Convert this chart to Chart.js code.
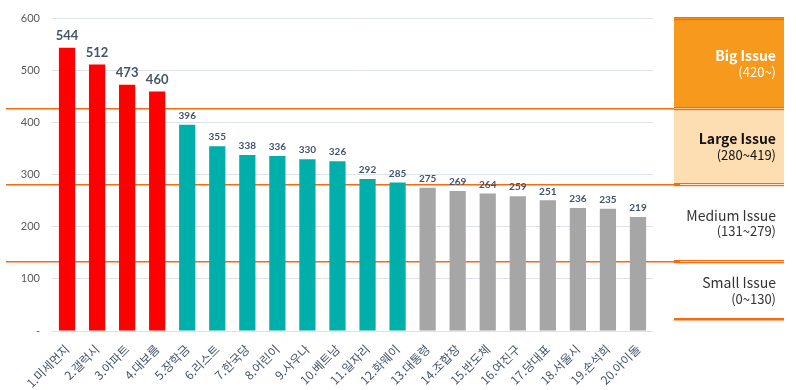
<!DOCTYPE html>
<html>
<head>
<meta charset="utf-8">
<script src="https://cdn.jsdelivr.net/npm/chart.js@4"></script>
<style>
  body { margin: 0; background: #fff; }
  #wrap { width: 796px; height: 390px; }
</style>
</head>
<body>
<div id="wrap"><canvas id="issueChart" width="796" height="390"></canvas></div>
<script>
// keywords and their counts
const keywords = ['1.미세먼지', '2.갤럭시', '3.아파트', '4.대보름', '5.장학금', '6.리스트', '7.한국당', '8.어린이', '9.사우나', '10.베트남',
    '11.일자리', '12.화웨이', '13.대통령', '14.조합장', '15.반도체', '16.여진구', '17.당대표', '18.서울시', '19.손석희', '20.아이돌'];
const counts = [544, 512, 473, 460, 396, 355, 338, 336, 330, 326, 292, 285, 275, 269, 264, 259, 251, 236, 235, 219];

// y axis ticks
const yTicks = [0, 100, 200, 300, 400, 500, 600];

// issue bands (lower limit for colouring, drawn edge on the chart)
const bandNames = ['Big Issue', 'Large Issue', 'Medium Issue', 'Small Issue'];
const bandRanges = ['(420~)', '(280~419)', '(131~279)', '(0~130)'];
const bandMins = [420, 280, 131, 0];
const bandEdges = [601, 428, 283, 134, 24];

const RED = '#FF0000', TEAL = '#00AFA9', GRAY = '#A6A6A6', ORANGE = '#F96A0E';

function barColor(v) {
    if (v >= bandMins[0]) return RED;
    if (v >= bandMins[1]) return TEAL;
    return GRAY;
}

function edgePixels(chart) {
    return bandEdges.map(v => Math.round(chart.scales.y.getPixelForValue(v)));
}

// value labels above bars
const valueLabels = {
    id: 'valueLabels',
    afterDatasetsDraw(chart) {
        const c = chart.ctx;
        const meta = chart.getDatasetMeta(0);
        c.save();
        c.textAlign = 'center';
        c.textBaseline = 'bottom';
        c.fillStyle = '#44546A';
        meta.data.forEach((bar, i) => {
            const v = counts[i];
            const big = v >= bandMins[0];
            c.font = big ? 'bold 13px Lato, "Open Sans", sans-serif' : 'bold 10px Lato, "Open Sans", sans-serif';
            c.fillText(v, bar.x, bar.y - (big ? 5 : 4));
        });
        c.restore();
    }
};

// orange threshold lines run behind the bars
const bandLines = {
    id: 'bandLines',
    beforeDatasetsDraw(chart) {
        const c = chart.ctx;
        const ys = edgePixels(chart);
        c.save();
        c.fillStyle = ORANGE;
        for (let k = 1; k <= 3; k++) {
            c.fillRect(6, ys[k], 680 - 6, 1.5);
        }
        c.restore();
    }
};

// legend boxes on the right
const issuePanel = {
    id: 'issuePanel',
    afterDraw(chart) {
        const c = chart.ctx;
        const x0 = 674, x1 = 784, w = x1 - x0;
        const ys = edgePixels(chart);
        c.save();

        c.fillStyle = '#F7991D';
        c.fillRect(x0, ys[0], w, ys[1] - ys[0]);
        c.fillStyle = '#FDDEB3';
        c.fillRect(x0, ys[1], w, ys[2] - ys[1]);

        c.fillStyle = ORANGE;
        for (let k = 0; k <= 3; k++) {
            c.fillRect(x0, ys[k] - 1, w, 1.2);
            c.fillRect(x0, ys[k] + 1, w, 1.2);
        }
        c.fillRect(x0, ys[4] - 1, w, 2.5);

        c.textAlign = 'right';
        c.textBaseline = 'middle';
        const textColors = ['#FFFFFF', '#111111', '#333333', '#333333'];
        for (let k = 0; k < 4; k++) {
            const mid = (ys[k] + ys[k + 1]) / 2;
            c.fillStyle = textColors[k];
            c.font = (k < 2 ? 'bold ' : '') + '14px "Noto Sans CJK KR", "DejaVu Sans", sans-serif';
            c.fillText(bandNames[k], 776, mid - 7);
            c.font = '13px "Noto Sans CJK KR", "DejaVu Sans", sans-serif';
            c.fillText(bandRanges[k], 776, mid + 9);
        }
        c.restore();
    }
};

const ctx = document.getElementById('issueChart').getContext('2d');
const issueChart = new Chart(ctx, {
    type: 'bar',
    data: {
        labels: keywords,
        datasets: [{
            data: counts,
            backgroundColor: counts.map(barColor),
            barPercentage: 0.54,
            categoryPercentage: 1.0
        }]
    },
    options: {
        responsive: false,
        animation: false,
        layout: { padding: { left: 0, right: 143, top: 17, bottom: 0 } },
        plugins: {
            legend: { display: false },
            tooltip: { enabled: false }
        },
        scales: {
            y: {
                min: 0,
                max: 600,
                afterBuildTicks: scale => { scale.ticks = yTicks.map(v => ({ value: v })); },
                afterFit: scale => { scale.width = 52; },
                grid: { color: '#DDE2E8', drawTicks: false },
                border: { display: false },
                ticks: {
                    padding: 12,
                    color: '#595959',
                    font: { size: 11, family: 'Lato, "Open Sans", sans-serif' },
                    callback: v => v === 0 ? '-' : v
                }
            },
            x: {
                afterFit: scale => { scale.height = 59; },
                grid: { display: false },
                border: { display: false },
                ticks: {
                    minRotation: 45,
                    maxRotation: 45,
                    autoSkip: false,
                    padding: 3,
                    color: '#44546A',
                    font: { size: 12, family: '"Noto Sans CJK KR", sans-serif' }
                }
            }
        }
    },
    plugins: [bandLines, valueLabels, issuePanel]
});
</script>
</body>
</html>
